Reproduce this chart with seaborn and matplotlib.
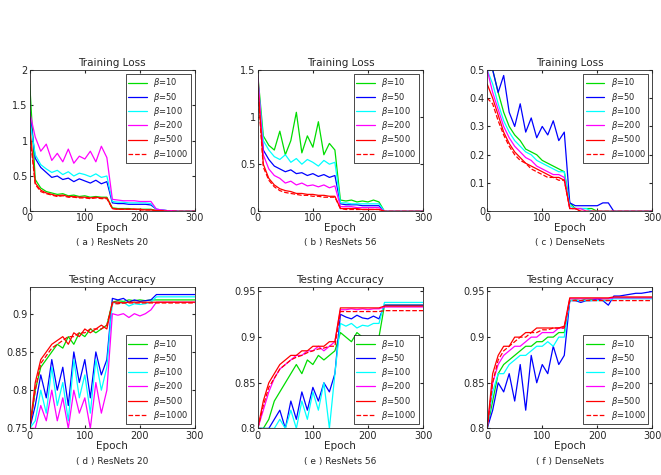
import numpy as np
import pandas as pd
import matplotlib.pyplot as plt
import seaborn as sns

epochs = list(range(0, 301, 10))
betas = ["10", "50", "100", "200", "500", "1000"]
colors = ["#00dd00", "#0000ff", "#00ffff", "#ff00ff", "#ff0000", "#ff0000"]
styles = ["-", "-", "-", "-", "-", "--"]

# (a) ResNets 20 loss
a_b10 = [1.80, 0.45, 0.33, 0.28, 0.26, 0.24, 0.25, 0.22, 0.23, 0.21, 0.22, 0.20, 0.21, 0.20, 0.20, 0.05, 0.04, 0.04, 0.04, 0.03, 0.03, 0.03, 0.03, 0.01, 0.01, 0.01, 0, 0, 0, 0, 0]
a_b50 = [1.40, 0.75, 0.62, 0.55, 0.48, 0.50, 0.45, 0.47, 0.42, 0.46, 0.43, 0.40, 0.44, 0.39, 0.42, 0.12, 0.11, 0.11, 0.10, 0.10, 0.10, 0.10, 0.09, 0.03, 0.02, 0.01, 0.01, 0, 0, 0, 0]
a_b100 = [1.30, 0.80, 0.66, 0.60, 0.55, 0.58, 0.52, 0.56, 0.50, 0.54, 0.52, 0.49, 0.53, 0.48, 0.50, 0.14, 0.13, 0.13, 0.12, 0.12, 0.12, 0.12, 0.11, 0.03, 0.02, 0.01, 0.01, 0, 0, 0, 0]
a_b200 = [1.40, 1.05, 0.85, 0.95, 0.72, 0.82, 0.70, 0.88, 0.68, 0.78, 0.74, 0.85, 0.70, 0.92, 0.76, 0.17, 0.16, 0.15, 0.15, 0.15, 0.14, 0.14, 0.14, 0.03, 0.02, 0.01, 0.01, 0, 0, 0, 0]
a_b500 = [1.20, 0.40, 0.30, 0.26, 0.24, 0.22, 0.23, 0.21, 0.21, 0.20, 0.20, 0.19, 0.20, 0.19, 0.19, 0.04, 0.03, 0.03, 0.03, 0.03, 0.03, 0.02, 0.02, 0.01, 0.01, 0, 0, 0, 0, 0, 0]
a_b1000 = [1.10, 0.38, 0.28, 0.25, 0.23, 0.21, 0.22, 0.20, 0.20, 0.19, 0.19, 0.18, 0.19, 0.18, 0.18, 0.04, 0.03, 0.03, 0.03, 0.03, 0.02, 0.02, 0.02, 0.01, 0.01, 0, 0, 0, 0, 0, 0]

# (b) ResNets 56 loss
b_b10 = [1.45, 0.80, 0.70, 0.65, 0.85, 0.60, 0.75, 1.05, 0.62, 0.80, 0.68, 0.95, 0.60, 0.72, 0.65, 0.12, 0.11, 0.12, 0.10, 0.11, 0.10, 0.12, 0.10, 0, 0, 0, 0, 0, 0, 0, 0]
b_b50 = [1.40, 0.65, 0.55, 0.48, 0.45, 0.42, 0.44, 0.40, 0.41, 0.38, 0.40, 0.37, 0.39, 0.36, 0.38, 0.08, 0.07, 0.07, 0.07, 0.06, 0.06, 0.06, 0.06, 0, 0, 0, 0, 0, 0, 0, 0]
b_b100 = [1.40, 0.75, 0.65, 0.58, 0.55, 0.60, 0.52, 0.56, 0.50, 0.55, 0.52, 0.48, 0.54, 0.50, 0.52, 0.09, 0.09, 0.08, 0.08, 0.08, 0.08, 0.08, 0.08, 0, 0, 0, 0, 0, 0, 0, 0]
b_b200 = [1.45, 0.60, 0.45, 0.38, 0.35, 0.30, 0.32, 0.28, 0.30, 0.27, 0.28, 0.26, 0.28, 0.25, 0.27, 0.05, 0.05, 0.05, 0.04, 0.04, 0.04, 0.04, 0.04, 0, 0, 0, 0, 0, 0, 0, 0]
b_b500 = [1.35, 0.50, 0.35, 0.28, 0.24, 0.22, 0.21, 0.19, 0.19, 0.18, 0.18, 0.17, 0.17, 0.16, 0.16, 0.03, 0.03, 0.03, 0.03, 0.02, 0.02, 0.02, 0.02, 0, 0, 0, 0, 0, 0, 0, 0]
b_b1000 = [1.30, 0.47, 0.33, 0.26, 0.22, 0.20, 0.19, 0.18, 0.17, 0.17, 0.16, 0.16, 0.15, 0.15, 0.15, 0.03, 0.02, 0.02, 0.02, 0.02, 0.02, 0.02, 0.02, 0, 0, 0, 0, 0, 0, 0, 0]

# (c) DenseNets loss
c_b10 = [0.50, 0.50, 0.42, 0.35, 0.30, 0.27, 0.25, 0.22, 0.21, 0.20, 0.18, 0.17, 0.16, 0.15, 0.14, 0.03, 0.01, 0.01, 0.01, 0.01, 0, 0, 0, 0, 0, 0, 0, 0, 0, 0, 0]
c_b50 = [0.50, 0.50, 0.42, 0.48, 0.35, 0.30, 0.38, 0.28, 0.33, 0.26, 0.30, 0.27, 0.32, 0.25, 0.28, 0.03, 0.02, 0.02, 0.02, 0.02, 0.02, 0.03, 0.03, 0, 0, 0, 0, 0, 0, 0, 0]
c_b100 = [0.50, 0.45, 0.38, 0.32, 0.28, 0.25, 0.23, 0.21, 0.20, 0.18, 0.17, 0.16, 0.15, 0.14, 0.14, 0.02, 0.01, 0.01, 0.01, 0, 0, 0, 0, 0, 0, 0, 0, 0, 0, 0, 0]
c_b200 = [0.50, 0.42, 0.36, 0.30, 0.26, 0.23, 0.21, 0.19, 0.18, 0.16, 0.15, 0.14, 0.13, 0.13, 0.12, 0.01, 0.01, 0.01, 0, 0, 0, 0, 0, 0, 0, 0, 0, 0, 0, 0, 0]
c_b500 = [0.45, 0.40, 0.34, 0.28, 0.24, 0.21, 0.19, 0.17, 0.16, 0.15, 0.14, 0.13, 0.12, 0.12, 0.11, 0.01, 0.01, 0, 0, 0, 0, 0, 0, 0, 0, 0, 0, 0, 0, 0, 0]
c_b1000 = [0.40, 0.38, 0.32, 0.27, 0.23, 0.20, 0.18, 0.17, 0.15, 0.14, 0.13, 0.12, 0.12, 0.11, 0.11, 0.01, 0.01, 0, 0, 0, 0, 0, 0, 0, 0, 0, 0, 0, 0, 0, 0]

# (d) ResNets 20 accuracy
d_b10 = [0.75, 0.80, 0.83, 0.84, 0.85, 0.86, 0.855, 0.87, 0.86, 0.875, 0.87, 0.88, 0.875, 0.88, 0.885, 0.915, 0.917, 0.916, 0.918, 0.917, 0.918, 0.917, 0.918, 0.918, 0.918, 0.918, 0.918, 0.918, 0.918, 0.918, 0.918]
d_b50 = [0.75, 0.78, 0.82, 0.79, 0.84, 0.80, 0.83, 0.78, 0.85, 0.81, 0.84, 0.79, 0.85, 0.82, 0.84, 0.92, 0.918, 0.92, 0.915, 0.918, 0.916, 0.917, 0.918, 0.925, 0.925, 0.925, 0.925, 0.925, 0.925, 0.925, 0.925]
d_b100 = [0.75, 0.76, 0.80, 0.77, 0.83, 0.78, 0.81, 0.76, 0.84, 0.79, 0.82, 0.77, 0.84, 0.80, 0.83, 0.915, 0.913, 0.915, 0.91, 0.913, 0.912, 0.913, 0.915, 0.922, 0.922, 0.922, 0.922, 0.922, 0.922, 0.922, 0.922]
d_b200 = [0.75, 0.75, 0.78, 0.76, 0.80, 0.76, 0.79, 0.75, 0.80, 0.77, 0.79, 0.75, 0.81, 0.77, 0.80, 0.90, 0.898, 0.90, 0.895, 0.90, 0.897, 0.90, 0.905, 0.915, 0.915, 0.915, 0.915, 0.915, 0.915, 0.915, 0.915]
d_b500 = [0.75, 0.81, 0.84, 0.85, 0.86, 0.865, 0.87, 0.86, 0.875, 0.87, 0.88, 0.875, 0.88, 0.885, 0.88, 0.915, 0.915, 0.914, 0.915, 0.915, 0.915, 0.915, 0.915, 0.915, 0.915, 0.915, 0.915, 0.915, 0.915, 0.915, 0.915]
d_b1000 = [0.75, 0.80, 0.835, 0.845, 0.855, 0.86, 0.865, 0.87, 0.87, 0.875, 0.875, 0.88, 0.88, 0.88, 0.885, 0.913, 0.913, 0.914, 0.914, 0.914, 0.914, 0.914, 0.914, 0.914, 0.914, 0.914, 0.914, 0.914, 0.914, 0.914, 0.914]

# (e) ResNets 56 accuracy
e_b10 = [0.80, 0.80, 0.81, 0.83, 0.84, 0.85, 0.86, 0.87, 0.86, 0.875, 0.87, 0.88, 0.875, 0.88, 0.885, 0.905, 0.90, 0.895, 0.905, 0.90, 0.895, 0.90, 0.90, 0.935, 0.935, 0.935, 0.935, 0.935, 0.935, 0.935, 0.935]
e_b50 = [0.80, 0.80, 0.80, 0.81, 0.82, 0.80, 0.83, 0.81, 0.84, 0.82, 0.845, 0.83, 0.85, 0.84, 0.86, 0.925, 0.922, 0.92, 0.924, 0.921, 0.92, 0.923, 0.92, 0.935, 0.935, 0.935, 0.935, 0.935, 0.935, 0.935, 0.935]
e_b100 = [0.80, 0.80, 0.80, 0.80, 0.81, 0.80, 0.82, 0.80, 0.83, 0.81, 0.84, 0.82, 0.85, 0.80, 0.86, 0.915, 0.912, 0.915, 0.91, 0.913, 0.912, 0.915, 0.915, 0.938, 0.938, 0.938, 0.938, 0.938, 0.938, 0.938, 0.938]
e_b200 = [0.80, 0.82, 0.84, 0.855, 0.865, 0.87, 0.875, 0.88, 0.88, 0.885, 0.885, 0.89, 0.885, 0.89, 0.895, 0.93, 0.93, 0.931, 0.93, 0.931, 0.93, 0.931, 0.931, 0.933, 0.933, 0.933, 0.933, 0.933, 0.933, 0.933, 0.933]
e_b500 = [0.80, 0.83, 0.85, 0.86, 0.87, 0.875, 0.88, 0.88, 0.885, 0.885, 0.89, 0.89, 0.89, 0.895, 0.895, 0.932, 0.932, 0.932, 0.932, 0.932, 0.932, 0.932, 0.932, 0.934, 0.934, 0.934, 0.934, 0.934, 0.934, 0.934, 0.934]
e_b1000 = [0.80, 0.825, 0.845, 0.855, 0.865, 0.87, 0.875, 0.878, 0.88, 0.883, 0.885, 0.887, 0.888, 0.89, 0.89, 0.928, 0.928, 0.928, 0.928, 0.928, 0.928, 0.928, 0.928, 0.929, 0.929, 0.929, 0.929, 0.929, 0.929, 0.929, 0.929]

# (f) DenseNets accuracy
f_b10 = [0.80, 0.83, 0.86, 0.87, 0.875, 0.88, 0.885, 0.89, 0.89, 0.895, 0.895, 0.90, 0.90, 0.905, 0.905, 0.94, 0.941, 0.94, 0.942, 0.941, 0.942, 0.942, 0.942, 0.943, 0.943, 0.943, 0.943, 0.943, 0.943, 0.943, 0.943]
f_b50 = [0.80, 0.82, 0.85, 0.84, 0.86, 0.83, 0.87, 0.82, 0.88, 0.85, 0.87, 0.86, 0.89, 0.87, 0.88, 0.94, 0.94, 0.938, 0.94, 0.94, 0.942, 0.94, 0.935, 0.945, 0.945, 0.946, 0.947, 0.948, 0.948, 0.949, 0.95]
f_b100 = [0.80, 0.84, 0.86, 0.86, 0.87, 0.875, 0.88, 0.88, 0.885, 0.89, 0.89, 0.895, 0.89, 0.90, 0.90, 0.94, 0.94, 0.94, 0.94, 0.94, 0.94, 0.94, 0.94, 0.942, 0.942, 0.942, 0.942, 0.942, 0.942, 0.942, 0.942]
f_b200 = [0.80, 0.85, 0.87, 0.88, 0.885, 0.89, 0.89, 0.895, 0.90, 0.90, 0.905, 0.905, 0.905, 0.91, 0.91, 0.942, 0.942, 0.942, 0.942, 0.942, 0.942, 0.942, 0.942, 0.943, 0.943, 0.943, 0.943, 0.943, 0.943, 0.943, 0.943]
f_b500 = [0.80, 0.86, 0.88, 0.89, 0.89, 0.90, 0.90, 0.905, 0.905, 0.91, 0.91, 0.91, 0.91, 0.91, 0.912, 0.943, 0.943, 0.943, 0.943, 0.943, 0.943, 0.943, 0.943, 0.944, 0.944, 0.944, 0.944, 0.944, 0.944, 0.944, 0.944]
f_b1000 = [0.80, 0.85, 0.875, 0.885, 0.89, 0.895, 0.90, 0.90, 0.905, 0.905, 0.908, 0.908, 0.91, 0.91, 0.91, 0.94, 0.94, 0.94, 0.94, 0.94, 0.94, 0.94, 0.94, 0.94, 0.94, 0.94, 0.94, 0.94, 0.94, 0.94, 0.94]

panels = [
    ([a_b10, a_b50, a_b100, a_b200, a_b500, a_b1000], "Training Loss", (0, 2), [0, 0.5, 1, 1.5, 2], "( a ) ResNets 20", "upper right"),
    ([b_b10, b_b50, b_b100, b_b200, b_b500, b_b1000], "Training Loss", (0, 1.5), [0, 0.5, 1, 1.5], "( b ) ResNets 56", "upper right"),
    ([c_b10, c_b50, c_b100, c_b200, c_b500, c_b1000], "Training Loss", (0, 0.5), [0, 0.1, 0.2, 0.3, 0.4, 0.5], "( c ) DenseNets", "upper right"),
    ([d_b10, d_b50, d_b100, d_b200, d_b500, d_b1000], "Testing Accuracy", (0.75, 0.935), [0.75, 0.8, 0.85, 0.9], "( d ) ResNets 20", "lower right"),
    ([e_b10, e_b50, e_b100, e_b200, e_b500, e_b1000], "Testing Accuracy", (0.8, 0.955), [0.8, 0.85, 0.9, 0.95], "( e ) ResNets 56", "lower right"),
    ([f_b10, f_b50, f_b100, f_b200, f_b500, f_b1000], "Testing Accuracy", (0.8, 0.955), [0.8, 0.85, 0.9, 0.95], "( f ) DenseNets", "lower right"),
]

sns.set_style("ticks")
plt.rcParams["font.family"] = ["DejaVu Sans"]
fig = plt.figure(figsize=(6.61, 4.75), dpi=100)
lefts = [0.045, 0.39, 0.737]
bottoms = [0.555, 0.098]
cap_y = [0.490, 0.028]
w, h = 0.25, 0.298

for i, (series, title, ylim, yticks, caption, loc) in enumerate(panels):
    ax = fig.add_axes([lefts[i % 3], bottoms[i // 3], w, h])
    for s, b, c, ls in zip(series, betas, colors, styles):
        df = pd.DataFrame({"epoch": epochs, "val": s})
        sns.lineplot(data=df, x="epoch", y="val", ax=ax, color=c, linestyle=ls,
                     linewidth=0.9, label=r"$\beta$=" + b)
    ax.set_xlim(0, 300)
    ax.set_ylim(*ylim)
    ax.set_yticks(yticks)
    ax.set_yticklabels([f"{t:g}" for t in yticks])
    ax.set_xticks([0, 100, 200, 300])
    ax.tick_params(direction="in", labelsize=7, length=2, pad=1.5, top=True, right=True)
    for sp in ax.spines.values():
        sp.set_visible(True)
        sp.set_linewidth(0.6)
    ax.set_title(title, fontsize=7.5, pad=3)
    ax.set_xlabel("Epoch", fontsize=7.5, labelpad=0)
    ax.set_ylabel("")
    leg = ax.legend(loc=loc, fontsize=6, handlelength=2.2, borderpad=0.3,
                    labelspacing=0.15, fancybox=False, framealpha=1)
    leg.get_frame().set_edgecolor("black")
    leg.get_frame().set_linewidth(0.5)
    fig.text(lefts[i % 3] + w / 2, cap_y[i // 3], caption, ha="center",
             va="center", fontsize=6.5)

fig.savefig("out.png", dpi=100)
